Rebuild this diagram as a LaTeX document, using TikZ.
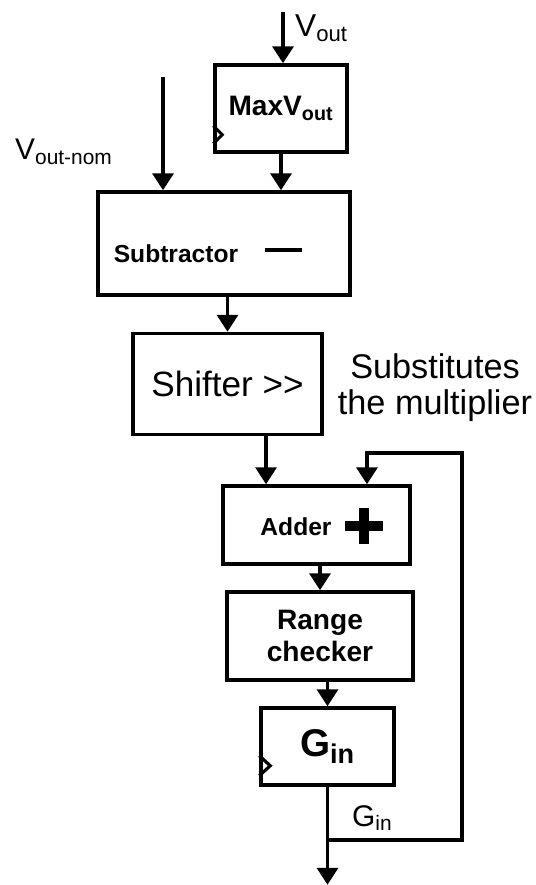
\documentclass[tikz,border=0pt]{standalone}
\usepackage{fontspec}
\setmainfont{Liberation Sans}
\usetikzlibrary{arrows.meta,calc}

\begin{document}
\begin{tikzpicture}[x=0.02cm, y=-0.02cm,
    block/.style={draw, rectangle, line width=2pt, inner sep=0pt, align=center,
        font=\fontsize{16}{18}\selectfont\bfseries},
    wire/.style={line width=2pt},
    arr/.style={wire, -{Triangle[width=4.2mm, length=3.4mm]}},
    clk/.style={line width=1.8pt, line join=miter}]

    \useasboundingbox (0,0) rectangle (535,885);

    % Blocks of the gain loop
    \node[block, minimum width=2.64cm, minimum height=1.74cm] (maxv) at (281,108.5) {MaxV\textsubscript{out}};
    \node[block, minimum width=5.04cm, minimum height=2.06cm] (sub) at (224,243.5) {};
    \node[block, minimum width=3.78cm, minimum height=2.02cm, font=\fontsize{20}{24}\selectfont] (shift) at (227.5,384) {Shifter >{}>};
    \node[block, minimum width=3.74cm, minimum height=1.56cm] (adder) at (316.5,525) {};
    \node[block, minimum width=3.72cm, minimum height=1.76cm] (range) at (320,636) {Range\\checker};
    \node[block, minimum width=2.66cm, minimum height=1.54cm, font=\fontsize{22}{24}\selectfont\bfseries] (gin) at (327.5,746.5) {G\textsubscript{in}};

    % Texts placed off centre, with their signs
    \node[font=\fontsize{14}{16}\selectfont\bfseries] (subtxt) at (176,254) {Subtractor};
    \draw[line width=2.2pt] (265,250) -- (302,250);
    \node[font=\fontsize{14}{16}\selectfont\bfseries] (addtxt) at (296,527) {Adder};
    \draw[line width=5.7pt] (345,526) -- (383,526) (364,508) -- (364,544);

    % Clock marks of the registers
    \draw[clk] ($(maxv.south west)+(0,-28)$) -- ++(9,9) -- ++(-9,9);
    \draw[clk] ($(gin.south west)+(0,-31)$) -- ++(11,10) -- ++(-11,10);

    % Inputs and labels
    \coordinate (vin) at (283,12);
    \coordinate (nomin) at (163,77);
    \node[anchor=base west, font=\fontsize{18}{20}\selectfont] (voutlbl) at (289,37) {V\textsubscript{out}};
    \node[anchor=base west, font=\fontsize{17}{20}\selectfont] (nomlbl) at (9,160) {V\textsubscript{out-nom}};
    \node[align=center, font=\fontsize{19.5}{20.5}\selectfont] (note) at (435,388) {Substitutes\\the multiplier};

    % Data path
    \draw[arr] (vin) -- (vin |- maxv.north);
    \draw[arr] (maxv.south) -- (maxv.south |- sub.north);
    \draw[arr] (nomin) -- (nomin |- sub.north);
    \draw[arr] (shift.north |- sub.south) -- (shift.north);
    \coordinate (addin1) at ($(adder.north west)!0.235!(adder.north east)$);
    \coordinate (addin2) at ($(adder.north west)!0.765!(adder.north east)$);
    \draw[arr] (shift.south -| addin1) -- (addin1);
    \draw[arr] (range.north |- adder.south) -- (range.north);
    \draw[arr] (gin.north |- range.south) -- (gin.north);

    % Output and feedback to the adder
    \coordinate (gout) at ($(gin.south)+(0,98)$);
    \coordinate (split) at ($(gin.south)+(0,53)$);
    \coordinate (fbtop) at (462,453);
    \draw[arr] (gin.south) -- (gout);
    \draw[arr] (split) -| (fbtop) -| (addin2);
    \node[anchor=base west, font=\fontsize{17}{20}\selectfont] (ginlbl) at (346,826) {G\textsubscript{in}};
\end{tikzpicture}
\end{document}
